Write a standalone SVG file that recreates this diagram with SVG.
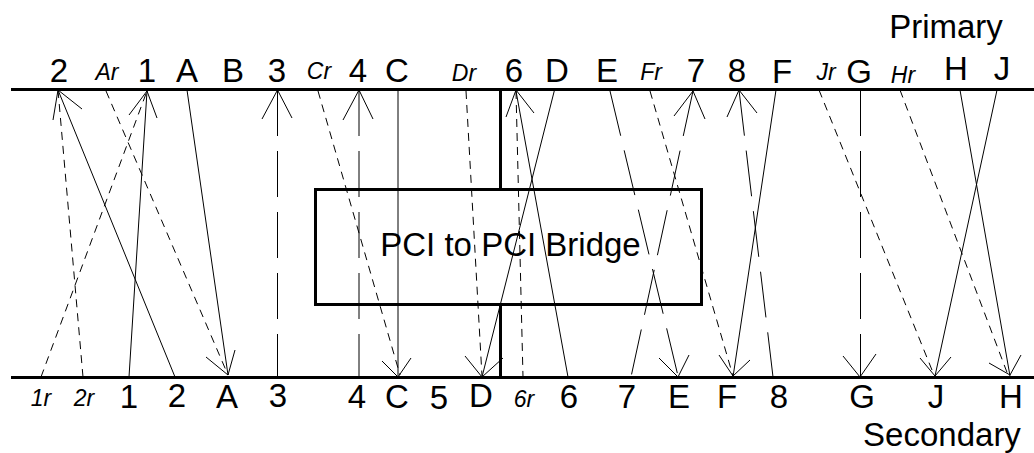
<svg xmlns="http://www.w3.org/2000/svg" width="1034" height="453" viewBox="0 0 1034 453">
<style>
text{font-family:"Liberation Sans",Arial,sans-serif;font-size:33px;fill:#000;text-anchor:middle}
text.r{font-size:23px;font-style:italic}
line,polyline{fill:none;stroke:#000;stroke-width:1}
.bus{stroke-width:3}
.s{stroke-dasharray:8 6}
.l{stroke-dasharray:46 15}
</style>
<rect width="1034" height="453" fill="#fff"/>
<g id="buses">
<line class="bus" x1="11" y1="89.5" x2="1034" y2="89.5"/>
<line class="bus" x1="11" y1="377.5" x2="1034" y2="377.5"/>
<line class="bus" x1="500.5" y1="90" x2="500.5" y2="189"/>
<line class="bus" x1="500.5" y1="304" x2="500.5" y2="378"/>
</g>
<g id="bridge">
<rect x="315.5" y="189.5" width="386" height="115" fill="#fff" stroke="#000" stroke-width="3"/>
<text x="510.5" y="256">PCI to PCI Bridge</text>
</g>
<g id="connectors">
<line class="s" x1="41" y1="377" x2="147" y2="91"/>
<line class="s" x1="83" y1="377" x2="58" y2="90"/>
<line x1="129" y1="377" x2="147" y2="91"/>
<line x1="175" y1="377" x2="58" y2="90"/>
<line class="s" x1="106" y1="91" x2="228" y2="375"/>
<line x1="187" y1="90" x2="228" y2="375"/>
<line class="l" x1="277.5" y1="90" x2="277.5" y2="377"/>
<line class="s" x1="318" y1="91" x2="400" y2="375"/>
<line class="l" x1="359" y1="90" x2="359" y2="377"/>
<line x1="398" y1="90" x2="398" y2="377"/>
<line class="s" x1="466" y1="91" x2="482" y2="376"/>
<line class="s" x1="516" y1="91" x2="523" y2="377"/>
<line x1="568" y1="377" x2="516" y2="91"/>
<line x1="555" y1="88" x2="482" y2="377"/>
<line class="l" x1="610" y1="91" x2="678" y2="376"/>
<line class="s" x1="650" y1="91" x2="733" y2="376"/>
<line class="l" x1="693" y1="91" x2="631" y2="377"/>
<line class="l" x1="739" y1="90" x2="773" y2="377"/>
<line x1="776" y1="90" x2="733" y2="377"/>
<line class="s" x1="819" y1="90" x2="934" y2="375"/>
<line class="l" x1="860.5" y1="90" x2="860.5" y2="377"/>
<line class="s" x1="900" y1="90" x2="1008" y2="375"/>
<line x1="960" y1="90" x2="1010" y2="376"/>
<line x1="997" y1="90" x2="935" y2="376"/>
<polyline points="53,120 58,90 82,109"/>
<polyline points="129,115 147,91 157,118"/>
<polyline points="262,119 277.5,90 292,118"/>
<polyline points="343,120 359,90 373,119"/>
<polyline points="506,117 516,90 534,113"/>
<polyline points="674,116 693,91 705,119"/>
<polyline points="727,117 739,90 757,113"/>
<polyline points="206,357 228,375 235,350"/>
<polyline points="382,361 398,377 411,358"/>
<polyline points="465,356 482,377 503,358"/>
<polyline points="659,358 678,377 689,355"/>
<polyline points="719,355 733,376 750,360"/>
<polyline points="843,356 860,377 876,354"/>
<polyline points="920,358 935,376 951,357"/>
<polyline points="989,363 1010,375 1021,355"/>
</g>
<g id="primary-labels">
<text x="946" y="38">Primary</text>
<text x="59" y="82">2</text>
<text class="r" x="107" y="80">Ar</text>
<text x="147" y="82">1</text>
<text x="187" y="82">A</text>
<text x="233" y="82">B</text>
<text x="277" y="82">3</text>
<text class="r" x="319" y="79">Cr</text>
<text x="358" y="82">4</text>
<text x="397" y="82">C</text>
<text class="r" x="464" y="81">Dr</text>
<text x="514" y="82">6</text>
<text x="557" y="82">D</text>
<text x="607" y="82">E</text>
<text class="r" x="651" y="80">Fr</text>
<text x="696" y="82">7</text>
<text x="737" y="82">8</text>
<text x="782" y="83">F</text>
<text class="r" x="826" y="80">Jr</text>
<text x="859" y="83">G</text>
<text class="r" x="903" y="83">Hr</text>
<text x="956" y="80">H</text>
<text x="1002" y="80">J</text>
</g>
<g id="secondary-labels">
<text class="r" x="41" y="406">1r</text>
<text class="r" x="84" y="406">2r</text>
<text x="129" y="408">1</text>
<text x="177" y="407">2</text>
<text x="227" y="408">A</text>
<text x="278" y="407">3</text>
<text x="357" y="408">4</text>
<text x="397" y="408">C</text>
<text x="439" y="409">5</text>
<text x="481" y="407">D</text>
<text class="r" x="524" y="407">6r</text>
<text x="569" y="408">6</text>
<text x="627" y="408">7</text>
<text x="679" y="408">E</text>
<text x="727" y="408">F</text>
<text x="779" y="408">8</text>
<text x="862" y="408">G</text>
<text x="936" y="408">J</text>
<text x="1011" y="408">H</text>
<text x="942" y="446">Secondary</text>
</g>
</svg>
